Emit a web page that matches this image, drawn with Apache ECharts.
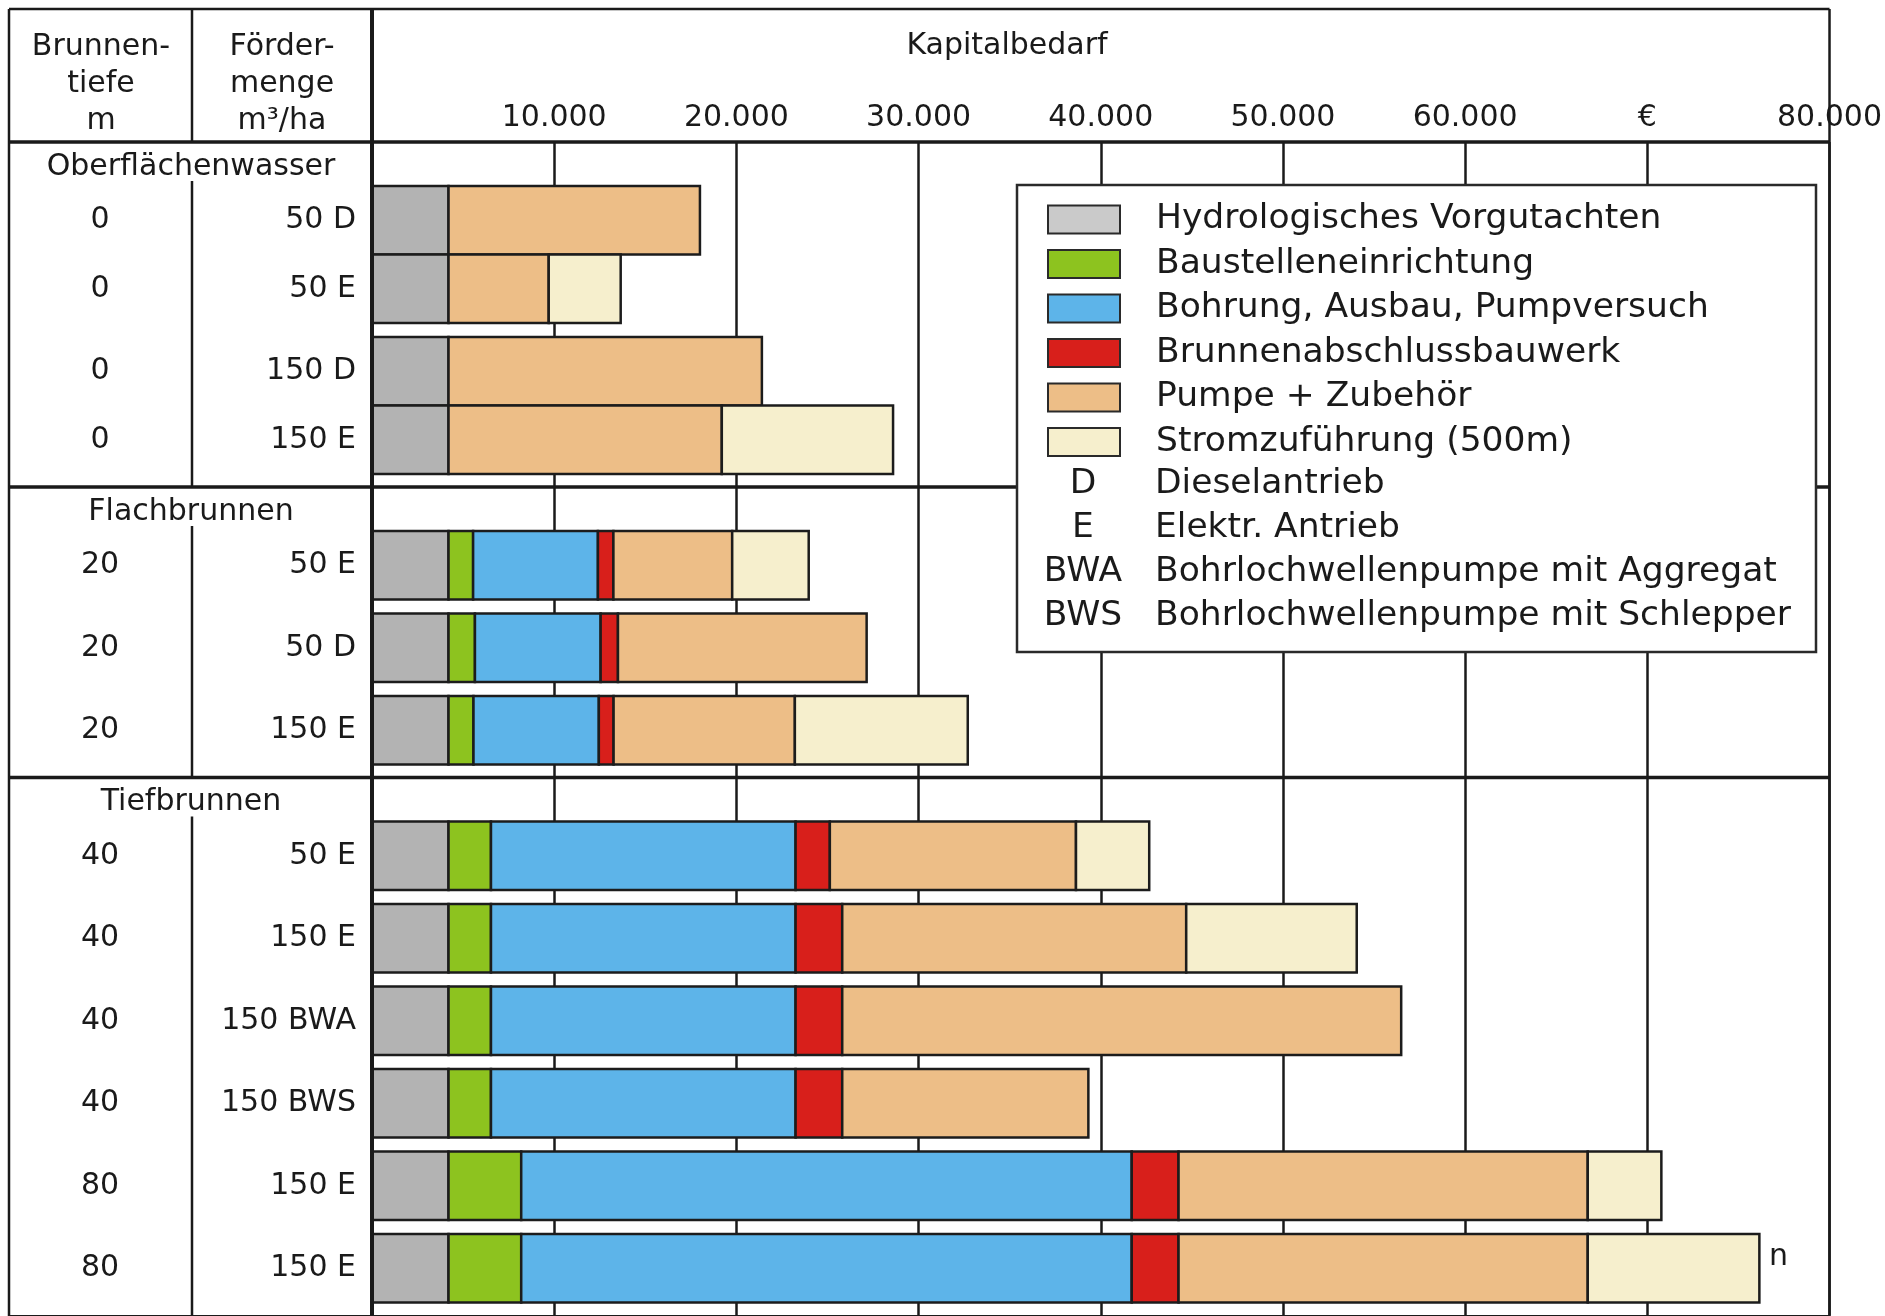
<!DOCTYPE html>
<html>
<head>
<meta charset="utf-8">
<title>Kapitalbedarf Brunnen</title>
<script src="https://cdn.jsdelivr.net/npm/echarts@6/dist/echarts.min.js"></script>
<style>
  html, body { margin: 0; padding: 0; background: #ffffff; }
  #chart { width: 1885px; height: 1316px; }
</style>
</head>
<body>
<div id="chart"></div>
<script>
// Abschnitte der Tabelle und Gruppierung ihrer Zeilen
// (Zeilen innerhalb einer Gruppe liegen ohne Abstand aneinander)
const sectionNames = ['Oberflächenwasser', 'Flachbrunnen', 'Tiefbrunnen'];
const sectionGroups = [[2, 2], [1, 1, 1], [1, 1, 1, 1, 1, 1]];

// Zeilenbeschriftungen
const depth = ['0', '0', '0', '0', '20', '20', '20', '40', '40', '40', '40', '80', '80'];
const amount = ['50 D', '50 E', '150 D', '150 E', '50 E', '50 D', '150 E', '50 E', '150 E', '150 BWA', '150 BWS', '150 E', '150 E'];

// Kostenbestandteile in €
const componentNames = ['Hydrologisches Vorgutachten', 'Baustelleneinrichtung', 'Bohrung, Ausbau, Pumpversuch',
  'Brunnenabschlussbauwerk', 'Pumpe + Zubehör', 'Stromzuführung (500m)'];
const vorgutachten = [4200, 4200, 4200, 4200, 4200, 4200, 4200, 4200, 4200, 4200, 4200, 4200, 4200];
const baustelle = [0, 0, 0, 0, 1350, 1450, 1370, 2330, 2330, 2330, 2330, 3990, 3990];
const bohrung = [0, 0, 0, 0, 6850, 6900, 6880, 16720, 16720, 16720, 16720, 33510, 33510];
const abschluss = [0, 0, 0, 0, 850, 950, 810, 1880, 2560, 2560, 2560, 2570, 2570];
const pumpe = [13800, 5500, 17200, 15000, 6520, 13650, 9950, 13510, 18880, 30680, 13510, 22460, 22460];
const strom = [0, 3950, 0, 9400, 4200, 0, 9490, 4020, 9360, 0, 0, 4040, 9420];

// Achsenbeschriftung Kapitalbedarf
const tickLabels = ['', '10.000', '20.000', '30.000', '40.000', '50.000', '60.000', '€', '80.000'];

// Erläuterung der Kürzel
const noteKeys = ['D', 'E', 'BWA', 'BWS'];
const noteTexts = ['Dieselantrieb', 'Elektr. Antrieb', 'Bohrlochwellenpumpe mit Aggregat', 'Bohrlochwellenpumpe mit Schlepper'];

const components = [vorgutachten, baustelle, bohrung, abschluss, pumpe, strom];
const colors = ['#b3b3b3', '#8dc31f', '#5db4e9', '#d81f1b', '#edbe87', '#f6efcd'];
const legendColors = ['#cacaca', '#8dc31f', '#5db4e9', '#d81f1b', '#edbe87', '#f6efcd'];
const FONT = '"DejaVu Sans", "Liberation Sans", Arial, sans-serif';
const INK = '#1a1a1a';
const TABLE_SIZE = 30, LEGEND_SIZE = 34.5;

// Vertikales Raster der Zeilen (Einheiten der y-Achse)
const BAR = 68.5, GAP = 14, HEAD = 44, TAIL = 13;
const rowTop = [], sectionStart = [], sectionFirstRow = [], sectionEnd = [];
let cursor = 0;
sectionGroups.forEach(groups => {
  sectionStart.push(cursor);
  cursor += HEAD;
  sectionFirstRow.push(cursor);
  groups.forEach((n, gi) => {
    if (gi > 0) cursor += GAP;
    for (let k = 0; k < n; k++) { rowTop.push(cursor); cursor += BAR; }
  });
  cursor += TAIL;
  sectionEnd.push(cursor);
});
const yMax = cursor;

const series = components.map((vals, c) => ({
  type: 'custom',
  name: componentNames[c],
  coordinateSystem: 'cartesian2d',
  itemStyle: { color: colors[c] },
  encode: { x: [0, 1], y: 2 },
  z: 2,
  data: vals.map((v, i) => {
    let start = 0;
    for (let k = 0; k < c; k++) start += components[k][i];
    return [start, start + v, rowTop[i], v];
  }).filter(d => d[3] > 0),
  renderItem: (params, api) => {
    const a = api.coord([api.value(0), api.value(2)]);
    const b = api.coord([api.value(1), api.value(2) + BAR]);
    return {
      type: 'rect',
      shape: { x: a[0], y: Math.min(a[1], b[1]), width: b[0] - a[0], height: Math.abs(b[1] - a[1]) },
      style: { fill: colors[c], stroke: '#1c1c1c', lineWidth: 2.5 }
    };
  }
}));

const chart = echarts.init(document.getElementById('chart'), null, { renderer: 'canvas' });
chart.setOption({
  backgroundColor: '#ffffff',
  animation: false,
  textStyle: { fontFamily: FONT },
  grid: { left: 372, top: 142, width: 1462, height: yMax },
  xAxis: {
    type: 'value', position: 'top', min: 0, max: 80000, interval: 10000,
    axisLine: { show: false }, axisTick: { show: false },
    axisLabel: {
      show: true, margin: 9, fontSize: TABLE_SIZE, color: INK, fontFamily: FONT,
      showMinLabel: true, showMaxLabel: true,
      formatter: (v) => tickLabels[Math.round(v / 10000)]
    },
    splitLine: { show: true, lineStyle: { color: INK, width: 2.5 } }
  },
  yAxis: {
    type: 'value', inverse: true, min: 0, max: yMax, show: false,
    splitLine: { show: false }
  },
  legend: {
    orient: 'vertical', left: 1047, top: 202, padding: 0,
    itemWidth: 72, itemHeight: 28, itemGap: 9.5, icon: 'rect',
    selectedMode: false,
    itemStyle: { borderColor: '#2a2a2a', borderWidth: 2 },
    textStyle: { fontSize: LEGEND_SIZE, color: INK, fontFamily: FONT, padding: [0, 0, 0, 31] },
    data: componentNames.map((n, i) => ({ name: n, itemStyle: { color: legendColors[i] } }))
  },
  series: series
});

// Tabellenrahmen, Beschriftungen und Erläuterungskasten
const px = (x, y) => chart.convertToPixel({ gridIndex: 0 }, [x, y]);
const xL = px(0, 0)[0], xR = px(80000, 0)[0];
const yHead = px(0, 0)[1], yBottom = 1316;
const OUTER_L = 9, TOP = 9, COL_DIV = 192;
const DEPTH_X = 100, AMOUNT_X = 356;

const g = [];
const line = (x1, y1, x2, y2, w) => g.push({
  type: 'line', z: 2.5, shape: { x1, y1, x2, y2 }, style: { stroke: INK, lineWidth: w }
});
const text = (x, y, s, align, size) => g.push({
  type: 'text', z: 11, x, y,
  style: { text: s, fill: INK, font: size + 'px ' + FONT, align: align || 'center', verticalAlign: 'middle' }
});

line(OUTER_L, TOP, xR, TOP, 2.5);
line(OUTER_L, TOP, OUTER_L, yBottom, 2.5);
line(xR, TOP, xR, yBottom, 2.5);
line(xL, TOP, xL, yBottom, 4);
line(OUTER_L, yHead, xR, yHead, 3.5);
line(COL_DIV, TOP, COL_DIV, yHead, 2.5);
line(OUTER_L, yBottom, xR, yBottom, 2);

// Kopfzeile
text(101, 47, 'Brunnen-', 'center', TABLE_SIZE);
text(101, 84, 'tiefe', 'center', TABLE_SIZE);
text(101, 121, 'm', 'center', TABLE_SIZE);
text(282, 47, 'Förder-', 'center', TABLE_SIZE);
text(282, 84, 'menge', 'center', TABLE_SIZE);
text(282, 121, 'm³/ha', 'center', TABLE_SIZE);
text(1007, 46, 'Kapitalbedarf', 'center', TABLE_SIZE);

// Abschnitte
sectionNames.forEach((name, s) => {
  const yTop = px(0, sectionStart[s])[1];
  const yFirst = px(0, sectionFirstRow[s])[1];
  const yEnd = Math.min(px(0, sectionEnd[s])[1], yBottom);
  text(191, (yTop + yFirst) / 2 + 3, name, 'center', TABLE_SIZE);
  line(COL_DIV, yFirst - 5, COL_DIV, yEnd, 2.5);
  if (s < sectionNames.length - 1) line(OUTER_L, yEnd, xR, yEnd, 3.5);
});

// Zeilen
rowTop.forEach((t, i) => {
  const yc = px(0, t + BAR / 2)[1];
  text(DEPTH_X, yc, depth[i], 'center', TABLE_SIZE);
  text(AMOUNT_X, yc, amount[i], 'right', TABLE_SIZE);
});
text(1769, 1257, 'n', 'left', TABLE_SIZE);

// Erläuterungskasten
g.push({
  type: 'rect', z: 3, shape: { x: 1017, y: 185, width: 799, height: 467 },
  style: { fill: '#ffffff', stroke: '#2a2a2a', lineWidth: 2.5 }
});
noteKeys.forEach((k, i) => {
  const yc = 220 + 44 * (componentNames.length + i);
  text(1083, yc, k, 'center', LEGEND_SIZE);
  text(1155, yc, noteTexts[i], 'left', LEGEND_SIZE);
});

chart.setOption({ graphic: { elements: g } });
</script>
</body>
</html>
